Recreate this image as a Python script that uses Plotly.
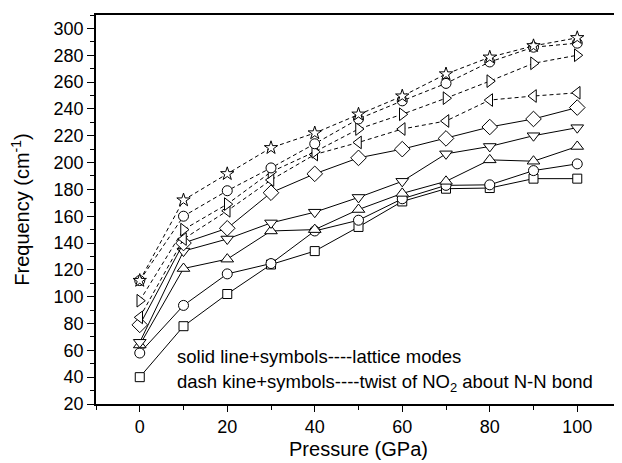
import plotly.graph_objects as go

pressure = [0, 10, 20, 30, 40, 50, 60, 70, 80, 90, 100]

solid_square = [40, 78, 102, 124, 134, 152, 171, 180.5, 181, 188, 188]
solid_circle = [58, 93.5, 117, 124.7, 149, 157, 173, 183, 183.4, 194, 199]
solid_tri_up = [64, 121, 128, 149, 150, 165, 177, 186, 202, 201, 212]
solid_tri_down = [66, 134, 143, 155, 163, 174, 186, 206.5, 212, 220, 226]
solid_diamond = [79, 140, 151, 177.5, 191.6, 203.5, 210, 218, 226.5, 232.5, 241]
dash_tri_left = [84.6, 143, 164, 187, 206, 215, 225, 231, 246.6, 249.6, 252]
dash_tri_right = [97, 150, 169, 193, 208, 225, 236, 248, 260.7, 274, 280]
dash_circle = [112, 160, 179, 196, 214, 232.5, 246, 259, 275, 286, 289]
dash_star = [112, 172, 191.6, 211, 222, 236, 249.5, 266, 278.5, 287, 293]

series = [
    (solid_square, "square", "solid", 9),
    (solid_circle, "circle", "solid", 10),
    (solid_tri_up, "triangle-up", "solid", 11),
    (solid_tri_down, "triangle-down", "solid", 11),
    (solid_diamond, "diamond", "solid", 12),
    (dash_tri_left, "triangle-left", "4px,3px", 11),
    (dash_tri_right, "triangle-right", "4px,3px", 11),
    (dash_circle, "circle", "4px,3px", 10),
    (dash_star, "star", "4px,3px", 10),
]

fig = go.Figure()
for vals, sym, dash, size in series:
    fig.add_trace(go.Scatter(
        x=pressure, y=vals, mode="lines+markers",
        line=dict(color="black", width=1, dash=dash),
        marker=dict(symbol=sym, size=size, color="white",
                    line=dict(color="black", width=1)),
        showlegend=False,
    ))

font_family = "Liberation Sans, Arial, sans-serif"

fig.add_annotation(x=0.15, y=0.121, xref="paper", yref="paper",
                   text="solid line+symbols----lattice modes",
                   showarrow=False, xanchor="left", yanchor="middle",
                   font=dict(size=18.5, color="black", family=font_family))
fig.add_annotation(x=0.15, y=0.053, xref="paper", yref="paper",
                   text="dash kine+symbols----twist of NO<sub>2</sub> about N-N bond",
                   showarrow=False, xanchor="left", yanchor="middle",
                   font=dict(size=18.5, color="black", family=font_family))

# the page body has an 8px margin, so the figure is sized to fit the window
fig.update_layout(
    width=614, height=455,
    margin=dict(l=88, r=1, t=7, b=59, autoexpand=False),
    paper_bgcolor="white", plot_bgcolor="white",
    font=dict(family=font_family, color="black", size=17),
    xaxis=dict(
        range=[-10, 110], tickmode="array", tickvals=[0, 20, 40, 60, 80, 100],
        ticks="outside", ticklen=6, tickwidth=1, tickcolor="black",
        minor=dict(tickvals=[-10, 10, 30, 50, 70, 90, 110], ticks="outside",
                   ticklen=4, tickcolor="black"),
        showline=True, linecolor="black", linewidth=1.5, mirror=True,
        showgrid=False, zeroline=False, automargin=False,
        title=dict(text="Pressure (GPa)", font=dict(size=20), standoff=6),
        tickfont=dict(size=18),
    ),
    yaxis=dict(
        range=[20, 310], tickmode="array", tickvals=list(range(20, 301, 20)),
        ticks="outside", ticklen=7, tickwidth=1, tickcolor="black",
        minor=dict(tickvals=list(range(30, 311, 20)), ticks="outside",
                   ticklen=4, tickcolor="black"),
        showline=True, linecolor="black", linewidth=1.5, mirror=True,
        showgrid=False, zeroline=False, automargin=False,
        title=dict(text="Frequency (cm<sup>-1</sup>)", font=dict(size=20), standoff=20),
        tickfont=dict(size=18),
    ),
)

fig.write_html("out.html")
